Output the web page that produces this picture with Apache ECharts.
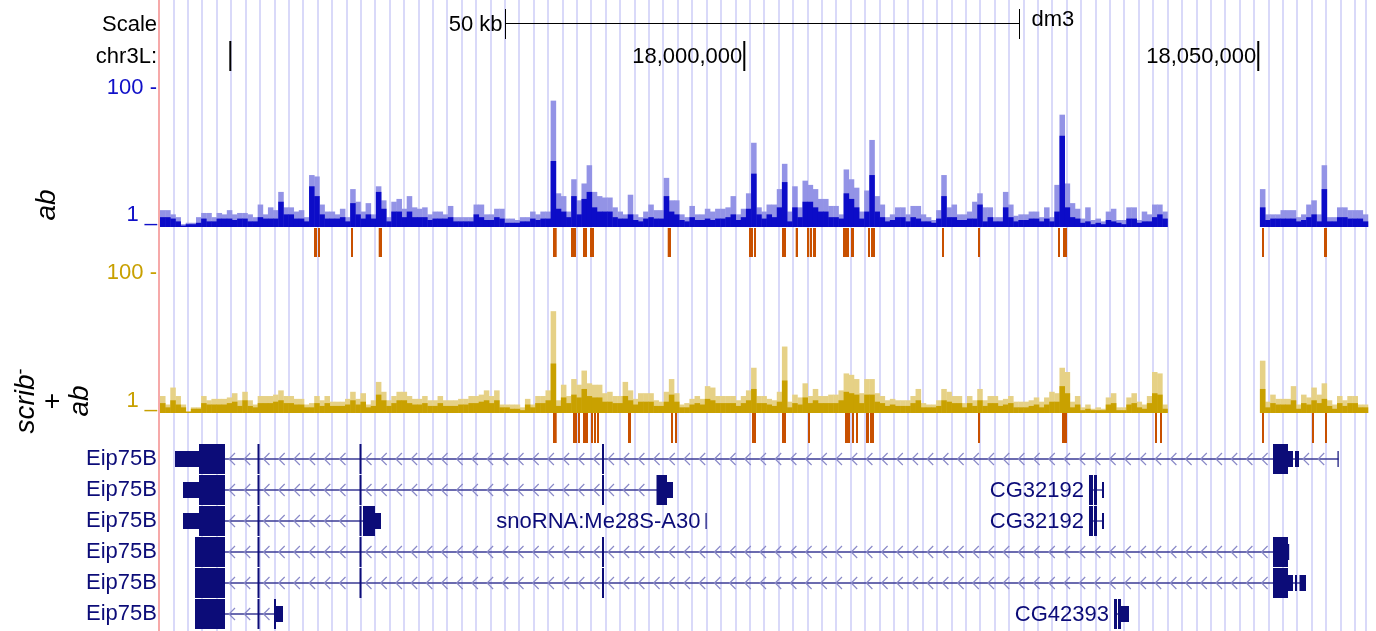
<!DOCTYPE html>
<html>
<head>
<meta charset="utf-8">
<script src="https://cdn.jsdelivr.net/npm/echarts@6/dist/echarts.min.js"></script>
<style>
  html, body { margin: 0; padding: 0; background: #fff; }
  #chart { width: 1376px; height: 631px; }
</style>
</head>
<body>
<div id="chart"></div>
<script>
  // shown window on chr3L (dm3)
  const viewStart = 17943160
  const viewEnd = 18060480
  // signal is kept in 500 bp bins, starting at viewStart
  const binSize = 500

  // ab ChIP signal, per bin: max (light) and mean (dark)
  const abMax = [
    13, 13, 10, 8, 3, 4, 4, 8, 11, 11,
    8, 11, 10, 13, 10, 11, 11, 10, 8, 17,
    10, 15, 13, 26, 15, 15, 12, 13, 8, 38,
    37, 17, 12, 12, 10, 14, 8, 28, 19, 12,
    18, 10, 30, 20, 8, 19, 21, 14, 23, 15,
    14, 15, 10, 12, 12, 10, 16, 8, 8, 8,
    8, 17, 17, 10, 10, 14, 14, 7, 7, 6,
    8, 8, 12, 10, 12, 12, 91, 25, 23, 12,
    35, 20, 32, 45, 26, 23, 22, 22, 15, 12,
    10, 24, 10, 8, 12, 17, 13, 13, 36, 20,
    20, 10, 8, 16, 10, 10, 14, 12, 14, 14,
    15, 23, 10, 14, 25, 61, 15, 12, 17, 17,
    28, 46, 12, 30, 15, 34, 31, 28, 21, 21,
    16, 16, 10, 42, 35, 29, 12, 27, 63, 23,
    17, 8, 10, 15, 15, 10, 16, 16, 10, 8,
    6, 13, 38, 15, 17, 10, 10, 12, 19, 25,
    15, 15, 8, 8, 26, 17, 9, 10, 10, 12,
    12, 8, 15, 8, 31, 81, 32, 18, 14, 7,
    15, 6, 7, 5, 12, 14, 6, 6, 15, 15,
    6, 12, 10, 17, 17, 12,
    null, null, null, null, null, null, null, null, null,
    null, null, null, null, null, null, null, null, null,
    28, 10, 10, 10, 13, 13, 13, 8, 10, 17, 20,
    10, 45, 8, 8, 15, 15, 13, 13, 13, 10
  ]
  const abMean = [
    8, 8, 7, 5, 2, 3, 3, 4, 7, 5,
    5, 7, 7, 7, 6, 7, 7, 5, 5, 8,
    7, 7, 7, 19, 10, 10, 7, 7, 5, 30,
    23, 10, 7, 7, 7, 8, 5, 18, 10, 7,
    10, 7, 26, 14, 5, 12, 12, 8, 12, 8,
    8, 8, 6, 7, 7, 7, 8, 5, 5, 5,
    5, 10, 8, 6, 6, 8, 7, 4, 4, 4,
    5, 5, 7, 6, 7, 7, 48, 14, 12, 8,
    23, 10, 21, 26, 15, 12, 12, 12, 8, 7,
    7, 10, 6, 5, 7, 8, 7, 7, 23, 12,
    10, 6, 5, 8, 6, 6, 7, 6, 7, 7,
    8, 10, 6, 8, 14, 39, 10, 7, 10, 8,
    15, 33, 5, 15, 8, 19, 19, 15, 12, 12,
    8, 8, 7, 25, 21, 15, 7, 12, 38, 12,
    8, 5, 6, 8, 8, 5, 8, 7, 5, 5,
    4, 7, 23, 8, 8, 6, 6, 7, 7, 17,
    5, 8, 5, 5, 15, 8, 5, 6, 6, 7,
    7, 5, 7, 5, 12, 66, 15, 8, 7, 4,
    5, 3, 4, 3, 6, 5, 4, 3, 7, 7,
    4, 5, 5, 8, 10, 7,
    null, null, null, null, null, null, null, null, null,
    null, null, null, null, null, null, null, null, null,
    15, 6, 7, 7, 7, 7, 7, 5, 6, 8, 10,
    5, 28, 5, 5, 8, 8, 7, 7, 7, 5
  ]

  // scrib- + ab signal
  const scribAbMax = [
    13, 7, 19, 13, 7, 2, 5, 5, 13, 10,
    11, 11, 11, 12, 15, 10, 16, 10, 7, 13,
    13, 13, 14, 17, 13, 13, 11, 11, 7, 8,
    13, 10, 13, 9, 9, 9, 11, 16, 11, 15,
    7, 10, 23, 16, 10, 13, 16, 16, 13, 11,
    11, 13, 10, 10, 13, 10, 10, 10, 11, 11,
    13, 13, 14, 17, 13, 17, 7, 7, 7, 7,
    5, 11, 7, 13, 13, 17, 73, 10, 21, 13,
    25, 21, 31, 22, 21, 21, 15, 16, 13, 13,
    23, 17, 11, 15, 15, 15, 10, 9, 16, 25,
    15, 7, 8, 11, 13, 11, 20, 19, 13, 13,
    13, 13, 10, 13, 17, 33, 13, 13, 11, 10,
    16, 48, 9, 14, 12, 22, 13, 18, 13, 13,
    14, 14, 17, 29, 28, 25, 15, 25, 25, 15,
    13, 10, 11, 10, 10, 10, 13, 18, 8, 7,
    7, 10, 18, 16, 13, 13, 8, 13, 10, 18,
    10, 13, 13, 10, 11, 13, 9, 9, 9, 10,
    12, 9, 12, 16, 15, 33, 30, 9, 13, 5,
    7, 4, 5, 4, 12, 15, 5, 5, 12, 15,
    9, 7, 13, 30, 29, 7,
    null, null, null, null, null, null, null, null, null,
    null, null, null, null, null, null, null, null, null,
    38, 9, 14, 11, 11, 11, 20, 7, 14, 12, 19,
    14, 22, 10, 7, 13, 10, 13, 13, 7, 7
  ]
  const scribAbMean = [
    8, 5, 10, 7, 5, 2, 4, 4, 8, 7,
    7, 7, 7, 8, 9, 6, 10, 6, 5, 8,
    8, 8, 9, 10, 8, 8, 7, 7, 5, 5,
    8, 6, 8, 6, 6, 6, 7, 10, 7, 9,
    5, 6, 14, 10, 6, 8, 10, 10, 8, 7,
    7, 8, 6, 6, 8, 6, 6, 6, 7, 7,
    8, 8, 9, 10, 8, 10, 5, 5, 4, 4,
    3, 7, 5, 8, 8, 10, 36, 6, 12, 8,
    14, 12, 18, 13, 12, 12, 9, 9, 8, 8,
    13, 10, 7, 9, 9, 9, 6, 6, 9, 14,
    9, 5, 5, 7, 8, 7, 11, 10, 8, 8,
    8, 8, 6, 8, 10, 18, 8, 8, 7, 6,
    9, 24, 5, 8, 7, 12, 8, 10, 8, 8,
    8, 8, 10, 16, 15, 14, 8, 14, 14, 9,
    8, 6, 7, 6, 6, 6, 8, 10, 5, 5,
    5, 6, 10, 9, 8, 8, 5, 8, 6, 10,
    6, 8, 8, 6, 7, 8, 5, 5, 5, 6,
    7, 5, 7, 9, 9, 20, 15, 5, 7, 3,
    4, 3, 3, 3, 7, 8, 3, 3, 7, 8,
    5, 4, 8, 15, 14, 4,
    null, null, null, null, null, null, null, null, null,
    null, null, null, null, null, null, null, null, null,
    18, 5, 8, 7, 7, 7, 10, 4, 8, 7, 10,
    8, 11, 6, 4, 8, 6, 8, 8, 5, 5
  ]

  // called peaks [start, end]
  const abPeaks = [
    [17958141, 17958433], [17958530, 17958725], [17961740, 17961935], [17964435, 17964756],
    [17981391, 17981751], [17983142, 17983628], [17984309, 17984698], [17984990, 17985379],
    [17992549, 17992870], [18000459, 18000848], [18000945, 18001140], [18003669, 18004058],
    [18004999, 18005223], [18006101, 18006325], [18006393, 18006587], [18006685, 18006976],
    [18009603, 18010187], [18010381, 18010673], [18012035, 18012229], [18012327, 18012716],
    [18019233, 18019428], [18022735, 18022930], [18030517, 18030712], [18031004, 18031393],
    [18050363, 18050558], [18056394, 18056686]
  ]
  const scribAbPeaks = [
    [17981391, 17981751], [17983337, 17983726], [17983823, 17984018], [17984309, 17984796],
    [17985087, 17985282], [17985380, 17985574], [17985671, 17985866], [17988687, 17988979],
    [17992870, 17993065], [17993259, 17993454], [18000750, 18001139], [18003668, 18004057],
    [18006197, 18006392], [18009797, 18010283], [18010478, 18010672], [18010867, 18011061],
    [18011840, 18012132], [18012229, 18012618], [18022735, 18022930], [18030906, 18031393],
    [18039953, 18040148], [18040440, 18040634], [18050363, 18050557], [18055227, 18055421],
    [18056491, 18056686]
  ]

  // ruler
  const rulerTicks = [17950000, 18000000, 18050000]
  const rulerLabels = ['', '18,000,000', '18,050,000']
  const scaleBar = [17976770, 18026770]

  // gene rows, names shown in the left margin
  const geneRows = ['Eip75B', 'Eip75B', 'Eip75B', 'Eip75B', 'Eip75B', 'Eip75B']
  // [name, row, exons [start, end, coding], label next to the gene]
  const transcripts = [
    ['Eip75B', 0, [[17944619, 17946954, 0], [17946954, 17949483, 1], [17952645, 17952839, 1], [17962567, 17962762, 1],
      [17986158, 17986352, 1], [18051433, 18052892, 1], [18052892, 18053378, 0], [18053573, 18053962, 0], [18057707, 18057804, 0]], false],
    ['Eip75B', 1, [[17945397, 17946954, 0], [17946954, 17949483, 1], [17952645, 17952839, 1], [17962567, 17962762, 1],
      [17986158, 17986352, 1], [17991460, 17992481, 1], [17992481, 17993065, 0]], false],
    ['Eip75B', 2, [[17945397, 17946954, 0], [17946954, 17949483, 1], [17952645, 17952839, 1], [17962567, 17962762, 1],
      [17962908, 17964075, 1], [17964075, 17964659, 0]], false],
    ['Eip75B', 3, [[17946565, 17949483, 1], [17952645, 17952839, 1], [17962567, 17962762, 1], [17986158, 17986352, 1],
      [18051433, 18052892, 1], [18052892, 18052989, 0]], false],
    ['Eip75B', 4, [[17946565, 17949483, 1], [17952645, 17952839, 1], [17962567, 17962762, 1], [17986158, 17986352, 1],
      [18051433, 18052892, 1], [18052892, 18053378, 0], [18053573, 18053767, 0], [18054010, 18054643, 0]], false],
    ['Eip75B', 5, [[17946565, 17949483, 1], [17952645, 17952839, 1], [17954250, 17954444, 1], [17954444, 17955125, 0]], false],
    ['snoRNA:Me28S-A30', 2, [[17996226, 17996323, 0]], true],
    ['CG32192', 1, [[18033533, 18033922, 1], [18034020, 18034311, 1], [18034798, 18034992, 0]], true],
    ['CG32192', 2, [[18033533, 18033922, 1], [18034020, 18034311, 1], [18034798, 18034992, 0]], true],
    ['CG42393', 5, [[18035965, 18036257, 1], [18036354, 18036646, 1], [18036646, 18037424, 0]], true]
  ]

  const font = "'Liberation Sans', Arial, Helvetica, sans-serif"
  const geneColor = '#0c0c78'

  /** bins -> [start, value] */
  const toBins = (arr) => arr.map((v, i) => [viewStart + i * binSize, v])

  /** one bar per bin, from 1 up to the value */
  const renderSignal = (color) => (params, api) => {
    const v = api.value(1)
    if (v == null || isNaN(v)) return
    const p0 = api.coord([api.value(0), 1])
    const p1 = api.coord([api.value(0) + binSize, v])
    return {
      type: 'rect',
      shape: { x: p0[0], y: p1[1], width: p1[0] - p0[0] + 0.4, height: p0[1] - p1[1] },
      style: { fill: color }
    }
  }

  const renderPeak = (params, api) => {
    const cs = params.coordSys
    const x0 = api.coord([api.value(0), 0])[0]
    const x1 = api.coord([api.value(1), 0])[0]
    return {
      type: 'rect',
      shape: { x: x0, y: cs.y, width: Math.max(x1 - x0, 1.6), height: cs.height },
      style: { fill: '#c85000' }
    }
  }

  const renderTick = (params, api) => {
    const cs = params.coordSys
    const x = api.coord([api.value(0), 0])[0]
    return {
      type: 'group',
      children: [
        { type: 'rect', shape: { x: x - 1, y: cs.y + 41, width: 2, height: 30 }, style: { fill: '#000' } },
        {
          type: 'text',
          style: { text: rulerLabels[params.dataIndex], x: x - 2, y: cs.y + 57, align: 'right', verticalAlign: 'middle', font: '22px ' + font, fill: '#000' }
        }
      ]
    }
  }

  const renderScaleBar = (params, api) => {
    const cs = params.coordSys
    const x0 = Math.round(api.coord([api.value(0), 0])[0]) + 0.5
    const x1 = Math.round(api.coord([api.value(2), 0])[0]) + 0.5
    const line = { stroke: '#000', lineWidth: 1 }
    return {
      type: 'group',
      children: [
        { type: 'line', shape: { x1: x0, y1: cs.y + 23.5, x2: x1, y2: cs.y + 23.5 }, style: line },
        { type: 'line', shape: { x1: x0, y1: cs.y + 9, x2: x0, y2: cs.y + 39 }, style: line },
        { type: 'line', shape: { x1: x1, y1: cs.y + 9, x2: x1, y2: cs.y + 39 }, style: line },
        { type: 'text', style: { text: '50 kb', x: x0 - 3, y: cs.y + 25, align: 'right', verticalAlign: 'middle', font: '22px ' + font, fill: '#000' } },
        { type: 'text', style: { text: 'dm3', x: x1 + 12, y: cs.y + 20, align: 'left', verticalAlign: 'middle', font: '22px ' + font, fill: '#000' } }
      ]
    }
  }

  /** gene model: intron line with arrows, exon blocks, optional label */
  const renderTranscript = (params, api) => {
    const t = transcripts[api.value(2)]
    const row = t[1]
    const exons = t[2]
    const px = (v) => api.coord([v, row])[0]
    const yc = Math.round(api.coord([exons[0][0], row])[1])
    const children = []
    const xs = px(exons[0][0])
    const xe = px(exons[exons.length - 1][1])
    if (exons.length > 1) {
      children.push({ type: 'line', shape: { x1: xs, y1: yc, x2: xe, y2: yc }, style: { stroke: '#3a3a94', lineWidth: 1.4 } })
      for (let k = 0; k < exons.length - 1; k++) {
        const a = px(exons[k][1])
        const b = px(exons[k + 1][0])
        for (let c = a + 4; c + 6 < b - 2; c += 15.2) {
          children.push({
            type: 'polyline',
            shape: { points: [[c + 6, yc - 6], [c, yc], [c + 6, yc + 6]] },
            style: { stroke: '#8a8ac8', lineWidth: 1.2, fill: null }
          })
        }
      }
    }
    exons.forEach((e) => {
      const x0 = px(e[0])
      const x1 = px(e[1])
      const h = e[2] ? 30 : 16
      children.push({
        type: 'rect',
        shape: { x: x0, y: yc - h / 2, width: Math.max(x1 - x0, 1.2), height: h },
        style: { fill: geneColor }
      })
    })
    if (t[3]) {
      children.push({
        type: 'text',
        style: { text: t[0], x: xs - 5, y: yc + 1, align: 'right', verticalAlign: 'middle', font: '22px ' + font, fill: geneColor }
      })
    }
    return { type: 'group', children }
  }

  const hiddenX = (gridIndex) => ({ gridIndex, type: 'value', min: viewStart, max: viewEnd, show: false })
  const hiddenY = (gridIndex) => ({ gridIndex, type: 'value', min: 0, max: 1, show: false })
  const signalY = (gridIndex, color) => ({
    gridIndex,
    type: 'value',
    min: 1,
    max: 100,
    interval: 99,
    axisLine: { show: false },
    axisTick: { show: false },
    splitLine: { show: false },
    axisLabel: {
      margin: 3,
      formatter: (v) => (v === 100 ? '{hi|100 -}' : '{lo|1 _}'),
      rich: {
        hi: { color, fontSize: 22, fontFamily: font },
        lo: { color, fontSize: 22, fontFamily: font, padding: [0, 0, 24, 0] }
      }
    }
  })

  const chartDom = echarts.init(document.getElementById('chart'))
  chartDom.setOption({
    animation: false,
    backgroundColor: '#fff',
    grid: [
      { left: 159, width: 1207, top: 0, height: 631 },
      { left: 160, width: 1206, top: 0, height: 88 },
      { left: 160, width: 1206, top: 88, height: 139 },
      { left: 160, width: 1206, top: 228, height: 29 },
      { left: 160, width: 1206, top: 273, height: 140 },
      { left: 160, width: 1206, top: 413, height: 30 },
      { left: 160, width: 1206, top: 443.5, height: 186 }
    ],
    xAxis: [
      {
        gridIndex: 0,
        type: 'value',
        min: viewStart - 100,
        max: viewEnd,
        interval: 1401.5,
        axisLine: { show: false },
        axisTick: { show: false },
        axisLabel: { show: false },
        splitLine: { show: true, lineStyle: { color: '#d9d9f9', width: 2 } }
      },
      hiddenX(1), hiddenX(2), hiddenX(3), hiddenX(4), hiddenX(5), hiddenX(6)
    ],
    yAxis: [
      {
        gridIndex: 0,
        type: 'value',
        min: 0,
        max: 1,
        axisLine: { show: true, onZero: false, lineStyle: { color: '#f6a9a9', width: 2 } },
        axisTick: { show: false },
        axisLabel: { show: false },
        splitLine: { show: false }
      },
      hiddenY(1),
      signalY(2, '#1010c8'),
      hiddenY(3),
      signalY(4, '#c8a000'),
      hiddenY(5),
      {
        gridIndex: 6,
        type: 'category',
        inverse: true,
        data: geneRows,
        axisLine: { show: false },
        axisTick: { show: false },
        splitLine: { show: false },
        axisLabel: { margin: 3, color: geneColor, fontSize: 22, fontFamily: font }
      }
    ],
    series: [
      { type: 'custom', xAxisIndex: 1, yAxisIndex: 1, silent: true, renderItem: renderTick, data: rulerTicks.map((v) => [v, 0]) },
      { type: 'custom', xAxisIndex: 1, yAxisIndex: 1, silent: true, renderItem: renderScaleBar, data: [[scaleBar[0], 0, scaleBar[1]]] },
      { type: 'custom', xAxisIndex: 2, yAxisIndex: 2, silent: true, renderItem: renderSignal('#9393e6'), data: toBins(abMax) },
      { type: 'custom', xAxisIndex: 2, yAxisIndex: 2, silent: true, renderItem: renderSignal('#0c0cc8'), data: toBins(abMean) },
      { type: 'custom', xAxisIndex: 3, yAxisIndex: 3, silent: true, renderItem: renderPeak, data: abPeaks },
      { type: 'custom', xAxisIndex: 4, yAxisIndex: 4, silent: true, renderItem: renderSignal('#e6d186'), data: toBins(scribAbMax) },
      { type: 'custom', xAxisIndex: 4, yAxisIndex: 4, silent: true, renderItem: renderSignal('#c9a100'), data: toBins(scribAbMean) },
      { type: 'custom', xAxisIndex: 5, yAxisIndex: 5, silent: true, renderItem: renderPeak, data: scribAbPeaks },
      {
        type: 'custom',
        xAxisIndex: 6,
        yAxisIndex: 6,
        silent: true,
        renderItem: renderTranscript,
        data: transcripts.map((t, i) => [t[2][0][0], t[1], i])
      }
    ],
    graphic: [
      { type: 'text', x: 157, y: 25, style: { text: 'Scale', align: 'right', verticalAlign: 'middle', font: '22px ' + font, fill: '#000' } },
      { type: 'text', x: 157, y: 57, style: { text: 'chr3L:', align: 'right', verticalAlign: 'middle', font: '22px ' + font, fill: '#000' } },
      {
        type: 'text',
        x: 47,
        y: 205,
        rotation: Math.PI / 2,
        style: { text: 'ab', align: 'center', verticalAlign: 'middle', font: 'italic 28px ' + font, fill: '#000' }
      },
      {
        type: 'text',
        x: 53,
        y: 401,
        rotation: Math.PI / 2,
        style: {
          text: '{i|scrib}{s|-}\n{p|+}\n{i|ab}',
          align: 'center',
          verticalAlign: 'middle',
          fill: '#000',
          rich: {
            i: { fontStyle: 'italic', fontSize: 28, fontFamily: font, lineHeight: 27 },
            s: { fontSize: 18, fontFamily: font, verticalAlign: 'top', lineHeight: 27 },
            p: { fontSize: 28, fontFamily: font, lineHeight: 27 }
          }
        }
      }
    ]
  })
</script>
</body>
</html>
